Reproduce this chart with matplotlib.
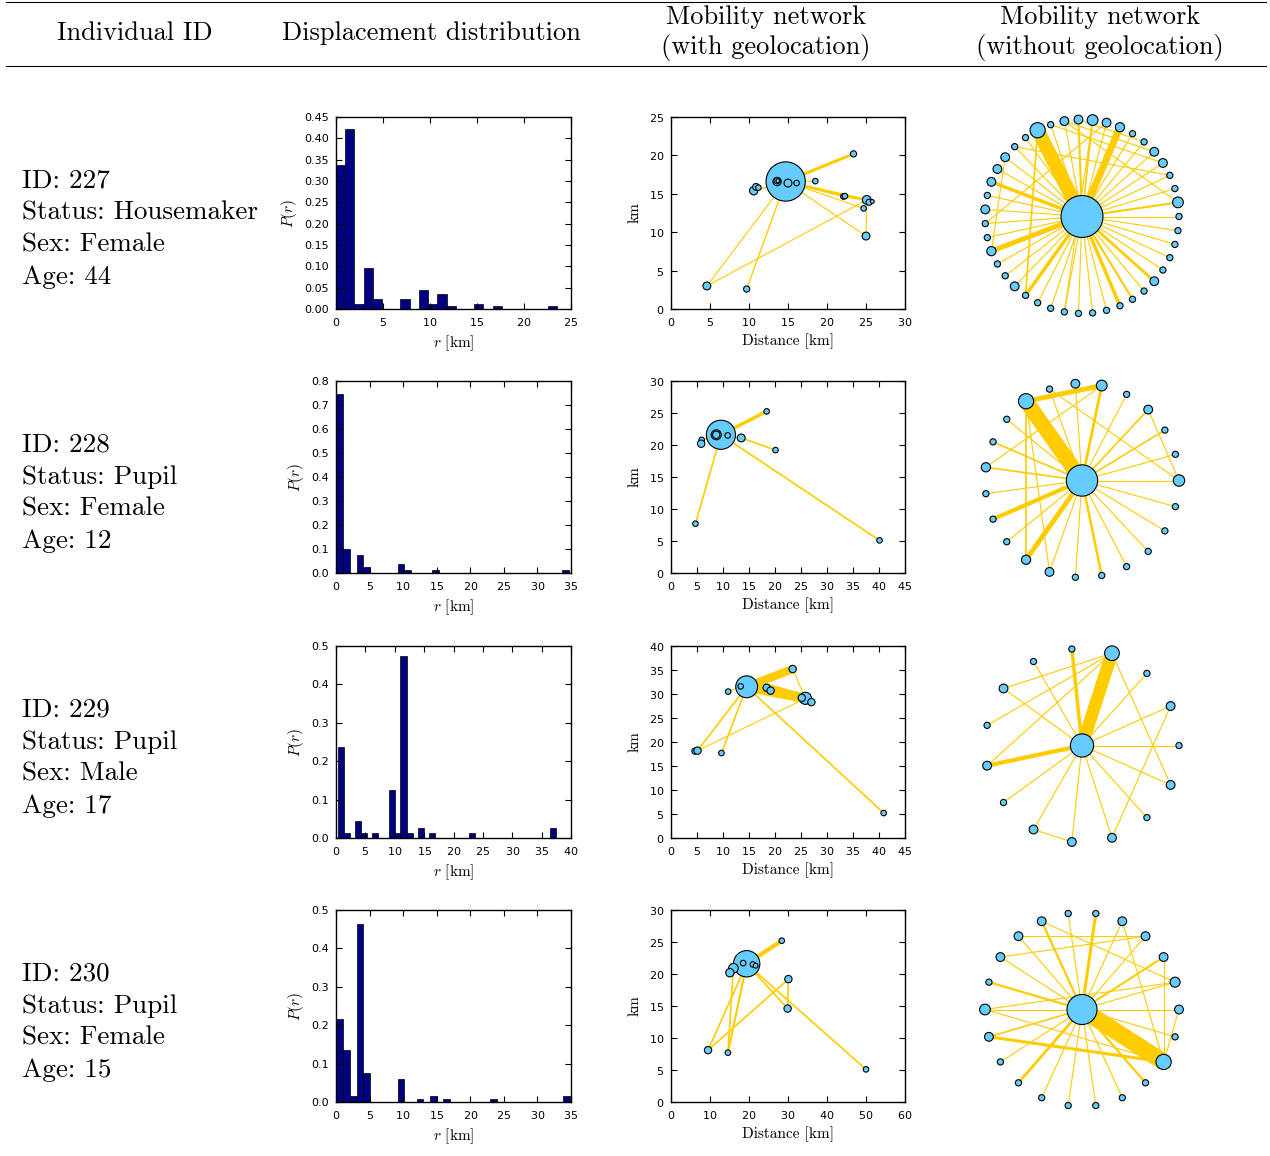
import numpy as np
import matplotlib.pyplot as plt
from matplotlib.lines import Line2D

plt.rcParams['mathtext.fontset'] = 'cm'
plt.rcParams['font.family'] = 'DejaVu Sans'
plt.rcParams['axes.formatter.use_mathtext'] = True

# individuals
ids = ['227', '228', '229', '230']
statuses = ['Housemaker', 'Pupil', 'Pupil', 'Pupil']
sexes = ['Female', 'Female', 'Male', 'Female']
ages = [44, 12, 17, 15]

# displacement distribution: bin centres [km], P(r), bin width
hist_r1 = [0.49, 1.47, 2.45, 3.43, 4.41, 7.35, 9.31, 10.29, 11.27, 12.25, 15.19, 17.15, 23.03]
hist_p1 = [0.338, 0.423, 0.012, 0.095, 0.023, 0.023, 0.045, 0.012, 0.034, 0.006, 0.012, 0.006, 0.006]
hist_r2 = [0.51, 1.53, 3.57, 4.59, 9.69, 10.71, 14.79, 34.17]
hist_p2 = [0.747, 0.100, 0.075, 0.026, 0.039, 0.013, 0.013, 0.013]
hist_r3 = [0.8, 1.83, 3.7, 4.75, 6.65, 9.6, 10.5, 11.5, 12.6, 14.45, 16.4, 23.2, 36.9]
hist_p3 = [0.238, 0.013, 0.043, 0.013, 0.013, 0.126, 0.013, 0.475, 0.013, 0.027, 0.013, 0.013, 0.027]
hist_r4 = [0.51, 1.53, 2.55, 3.57, 4.59, 9.69, 12.5, 14.5, 16.4, 23.4, 34.3]
hist_p4 = [0.216, 0.135, 0.015, 0.463, 0.075, 0.060, 0.008, 0.015, 0.008, 0.008, 0.015]
hist_w = [0.98, 1.02, 1.05, 1.02]
hist_xmax = [25, 35, 40, 35]
hist_ymax = [0.45, 0.8, 0.5, 0.5]
hist_ystep = [0.05, 0.1, 0.1, 0.1]

# mobility network with geolocation: node x, y [km], visits; edges (a, b, weight)
geo_x1 = [14.7, 4.6, 9.7, 23.4, 18.5, 16.1, 15.0, 13.6, 13.6, 13.7, 10.6, 10.9, 11.2, 22.1, 22.3, 25.1, 25.4, 25.8, 24.7, 25.0]
geo_y1 = [16.6, 3.0, 2.6, 20.2, 16.65, 16.4, 16.4, 16.6, 16.7, 16.7, 15.4, 15.9, 15.8, 14.65, 14.7, 14.2, 13.9, 14.0, 13.1, 9.5]
geo_v1 = [200, 8, 5, 5, 4, 4, 8, 9, 5, 2, 9, 6, 4, 4, 4, 10, 5, 2, 4, 8]
geo_e1 = [(0, 3, 2.2), (0, 15, 1.6), (0, 13, 1.2), (13, 15, 1.4), (0, 4, 0.8), (0, 19, 0.8),
          (0, 1, 0.8), (0, 2, 1.0), (1, 15, 0.8), (15, 19, 0.8), (0, 10, 1.2), (0, 18, 0.8)]
geo_x2 = [9.6, 8.7, 8.7, 10.9, 13.5, 5.9, 5.8, 18.4, 20.1, 4.7, 40.1]
geo_y2 = [21.6, 21.6, 21.6, 21.5, 21.1, 20.8, 20.2, 25.25, 19.2, 7.7, 5.1]
geo_v2 = [110, 13, 7, 4, 8, 4, 7, 4, 4, 4, 4]
geo_e2 = [(0, 7, 2.5), (0, 4, 1.2), (4, 8, 1.2), (0, 10, 1.2), (0, 9, 1.2), (0, 5, 1.2)]
geo_x3 = [14.55, 13.4, 11.0, 23.4, 18.4, 19.15, 25.85, 25.15, 27.0, 4.6, 5.1, 9.7, 40.9]
geo_y3 = [31.5, 31.6, 30.5, 35.2, 31.3, 30.7, 29.1, 29.2, 28.3, 18.1, 18.2, 17.7, 5.2]
geo_v3 = [62, 4, 4, 7, 7, 7, 19, 7, 7, 5, 7, 4, 4]
geo_e3 = [(0, 3, 6), (0, 6, 7), (4, 6, 6), (3, 6, 0.8), (0, 12, 1.2), (0, 10, 1.2),
          (0, 11, 1.2), (10, 6, 0.8), (2, 1, 0.8)]
geo_x4 = [19.4, 18.5, 21.0, 21.7, 16.0, 15.1, 28.4, 30.1, 29.9, 9.5, 14.6, 50.0]
geo_y4 = [21.6, 21.7, 21.5, 21.3, 20.9, 20.2, 25.2, 19.2, 14.6, 8.1, 7.7, 5.1]
geo_v4 = [90, 4, 4, 3, 12, 9, 4, 7, 7, 7, 4, 4]
geo_e4 = [(0, 6, 3), (0, 5, 2.5), (0, 9, 1.2), (0, 10, 1.5), (9, 7, 1.2), (7, 8, 1.2),
          (0, 8, 1.2), (0, 11, 1.2), (10, 4, 1.2)]
geo_xmax = [30, 45, 45, 60]
geo_ymax = [25, 30, 40, 30]

# mobility network without geolocation: hub visits, outer visits, spoke weights, chords
hub_v = [228, 127, 70, 117]
ring_v1 = [5, 15, 5, 5, 10, 10, 5, 5, 11, 10, 15, 10, 10, 5, 30, 5, 5, 10, 10, 10, 5, 10,
           5, 5, 11, 5, 5, 10, 5, 5, 5, 5, 5, 5, 5, 5, 5, 5, 10, 5, 5, 5, 5]
spoke1 = [0.8, 1.5, 0.8, 0.8, 0.8, 0.8, 0.8, 0.8, 5, 0.8, 1.2, 1.5, 0.8, 0.8, 10, 0.8, 0.8, 0.8,
          0.8, 2.5, 0.8, 0.8, 0.8, 0.8, 3.5, 0.8, 0.8, 0.8, 2.5, 0.8, 0.8, 0.8, 0.8, 0.8, 0.8,
          2.5, 1.5, 0.8, 2.0, 0.8, 0.8, 0.8, 0.8]
chords1 = [(14, 28, 1.2), (12, 5, 0.8), (13, 4, 0.8), (11, 6, 0.8), (10, 31, 0.8),
           (9, 22, 0.8), (17, 24, 0.8), (12, 1, 0.8), (16, 3, 0.8)]
ring_v2 = [17, 5, 5, 10, 5, 15, 10, 5, 30, 5, 5, 11, 5, 5, 5, 11, 10, 5, 5, 5, 5, 5, 5]
spoke2 = [0.8, 0.8, 1.2, 1.2, 0.8, 2.0, 0.8, 0.8, 11, 0.8, 1.2, 1.2, 0.8, 3, 0.8, 3.5,
          0.8, 0.8, 1.8, 0.8, 0.8, 0.8, 0.8]
chords2 = [(8, 5, 3.5), (8, 15, 1.2), (8, 16, 0.8), (5, 11, 0.8), (7, 0, 0.8), (3, 0, 0.8)]
ring_v3 = [5, 10, 5, 28, 5, 5, 10, 5, 10, 5, 10, 10, 10, 5, 10]
spoke3 = [0.8, 0.8, 0.8, 9, 2.5, 0.8, 0.8, 0, 3, 0.8, 0.8, 0.8, 0.8, 0.8, 0.8]
chords3 = [(3, 6, 0.8), (3, 7, 0.8), (3, 8, 0.8), (3, 14, 0.8), (1, 12, 0.8), (10, 11, 0.8)]
ring_v4 = [10, 13, 10, 10, 10, 5, 5, 10, 10, 10, 5, 15, 10, 5, 5, 5, 5, 5, 5, 5, 30, 5]
spoke4 = [0.8, 0.8, 1.5, 0.8, 0.8, 2.2, 0.8, 1.6, 0.8, 0.8, 1.6, 0.8, 1.2, 0.8, 2.0, 0.8,
          0.8, 0.8, 0.8, 1.6, 12, 0.8]
chords4 = [(12, 20, 2.2), (8, 3, 0.8), (9, 3, 0.8), (11, 1, 0.8), (11, 20, 0.8), (7, 1, 0.8),
           (2, 20, 0.8), (0, 20, 0.8), (4, 20, 0.8)]

hist_r = [hist_r1, hist_r2, hist_r3, hist_r4]
hist_p = [hist_p1, hist_p2, hist_p3, hist_p4]
geo_x = [geo_x1, geo_x2, geo_x3, geo_x4]
geo_y = [geo_y1, geo_y2, geo_y3, geo_y4]
geo_v = [geo_v1, geo_v2, geo_v3, geo_v4]
geo_e = [geo_e1, geo_e2, geo_e3, geo_e4]
ring_v = [ring_v1, ring_v2, ring_v3, ring_v4]
spokes = [spoke1, spoke2, spoke3, spoke4]
chords = [chords1, chords2, chords3, chords4]

NODE = '#66ccff'
EDGE = '#ffcc00'
W, H = 1270, 1156
fig = plt.figure(figsize=(W / 100, H / 100), dpi=100)


def rect(x0, y0, w, h):
    return [x0 / W, 1 - (y0 + h) / H, w / W, h / H]


def px(x, y):
    return x / W, 1 - y / H


def style(ax):
    ax.tick_params(direction='in', top=True, right=True, length=4, width=0.8, labelsize=8, pad=5)
    for s in ax.spines.values():
        s.set_linewidth(1.0)


serif = 'cmr10'
# header
fig.add_artist(Line2D([6 / W, 1266 / W], [1 - 1.5 / H] * 2, color='k', lw=0.8))
fig.add_artist(Line2D([6 / W, 1266 / W], [1 - 66 / H] * 2, color='k', lw=0.8))
heads = ['Individual ID', 'Displacement distribution',
         'Mobility network\n(with geolocation)', 'Mobility network\n(without geolocation)']
for hx, t in zip([135, 431, 766, 1100], heads):
    fig.text(*px(hx, 33), t, ha='center', va='center', fontsize=19, family=serif, linespacing=1.25)

row_top = [117, 381, 646, 910]
for i in range(4):
    y0 = row_top[i]
    # text block
    lines = ['ID: ' + ids[i], 'Status: ' + statuses[i], 'Sex: ' + sexes[i], 'Age: %d' % ages[i]]
    for j, t in enumerate(lines):
        fig.text(*px(22, y0 + 64 + 32 * j), t, ha='left', va='center', fontsize=19.5, family=serif)

    # histogram
    ax = fig.add_axes(rect(336, y0, 235, 192))
    ax.bar(hist_r[i], hist_p[i], width=hist_w[i], color='#000080', edgecolor='k', linewidth=0.5)
    ax.set_xlim(0, hist_xmax[i])
    ax.set_ylim(0, hist_ymax[i])
    ax.set_xticks(np.arange(0, hist_xmax[i] + 1, 5))
    yt = np.arange(0, hist_ymax[i] + 1e-9, hist_ystep[i])
    ax.set_yticks(yt)
    fmt = '%.2f' if i == 0 else '%.1f'
    ax.set_yticklabels([fmt % v for v in yt])
    ax.set_xlabel(r'$r$ [km]', family=serif, fontsize=11, labelpad=4)
    ax.set_ylabel(r'$P(r)$', fontsize=11, labelpad=4)
    style(ax)

    # geolocated network
    ax = fig.add_axes(rect(671, y0, 234, 192))
    gx, gy = np.array(geo_x[i]), np.array(geo_y[i])
    for a, b, w in geo_e[i]:
        ax.plot([gx[a], gx[b]], [gy[a], gy[b]], color=EDGE, lw=w, zorder=1, solid_capstyle='butt')
    ax.scatter(gx, gy, s=np.array(geo_v[i]) * 4, c=NODE, edgecolors='k', linewidths=0.8, zorder=2)
    ax.set_xlim(0, geo_xmax[i])
    ax.set_ylim(0, geo_ymax[i])
    ax.set_xticks(np.arange(0, geo_xmax[i] + 1, 10 if geo_xmax[i] == 60 else 5))
    ax.set_yticks(np.arange(0, geo_ymax[i] + 1, 5))
    ax.set_xlabel('Distance [km]', family=serif, fontsize=11, labelpad=4)
    ax.set_ylabel('km', family=serif, fontsize=11, labelpad=5)
    style(ax)

    # network without geolocation
    cy = y0 + 99.5
    ax = fig.add_axes(rect(1082 - 120, cy - 120, 240, 240))
    n = len(ring_v[i])
    ang = 2 * np.pi * np.arange(n) / n
    rx = np.concatenate([[0.0], np.cos(ang)])
    ry = np.concatenate([[0.0], np.sin(ang)])
    edges = [(-1, k, w) for k, w in enumerate(spokes[i]) if w > 0] + chords[i]
    for a, b, w in edges:
        ax.plot([rx[a + 1], rx[b + 1]], [ry[a + 1], ry[b + 1]], color=EDGE, lw=w, zorder=1,
                solid_capstyle='butt')
    sizes = np.array([hub_v[i]] + ring_v[i]) * 4
    ax.scatter(rx, ry, s=sizes, c=NODE, edgecolors='k', linewidths=0.8, zorder=2)
    lim = 120 / 97
    ax.set_xlim(-lim, lim)
    ax.set_ylim(-lim, lim)
    ax.axis('off')

fig.savefig('out.png', dpi=100)
